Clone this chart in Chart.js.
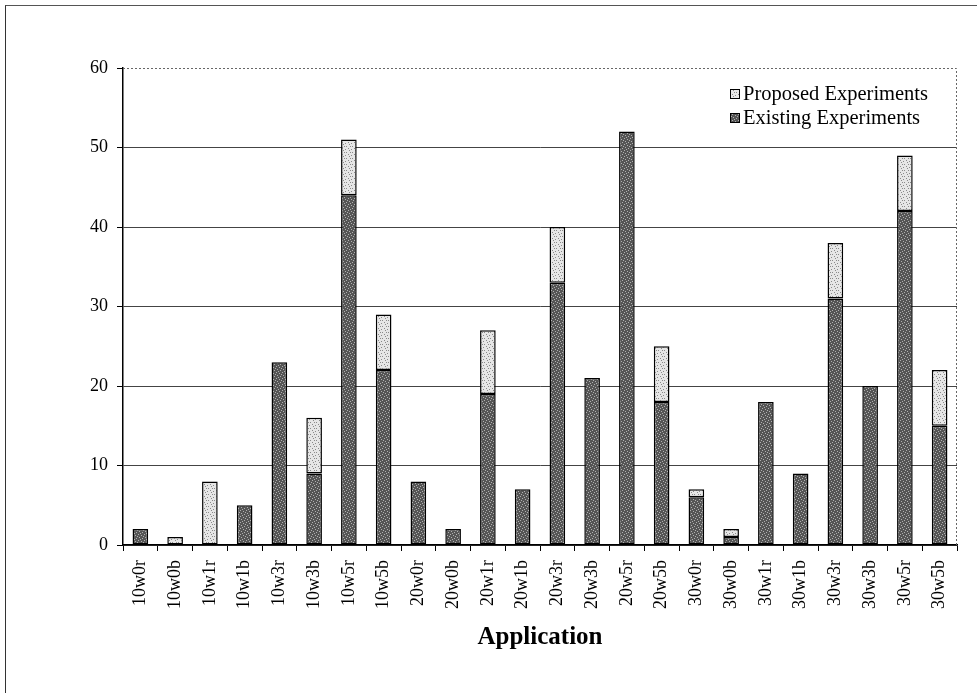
<!DOCTYPE html>
<html>
<head>
<meta charset="utf-8">
<script src="https://cdn.jsdelivr.net/npm/chart.js@4"></script>
<style>
  html, body { margin: 0; padding: 0; background: #fff; }
  #wrap {
    position: absolute; left: 0; top: 0; width: 977px; height: 693px;
  }
  #frame {
    position: absolute; left: 5px; top: 5px; width: 975px; height: 690px;
    border-left: 1px solid #333; border-top: 1px solid #555;
    pointer-events: none;
  }
</style>
</head>
<body>
<div id="wrap">
  <canvas id="chart" width="977" height="693"></canvas>
  <div id="frame"></div>
</div>
<script>
// 各應用程式名稱
const categories = ['10w0r', '10w0b', '10w1r', '10w1b', '10w3r', '10w3b', '10w5r', '10w5b',
                    '20w0r', '20w0b', '20w1r', '20w1b', '20w3r', '20w3b', '20w5r', '20w5b',
                    '30w0r', '30w0b', '30w1r', '30w1b', '30w3r', '30w3b', '30w5r', '30w5b'];
// 既有實驗數量
const existing = [2, 0, 0, 5, 23, 9, 44, 22, 8, 2, 19, 7, 33, 21, 52, 18, 6, 1, 18, 9, 31, 20, 42, 15];
// 提議的實驗數量（疊在上面）
const proposed = [0, 1, 8, 0, 0, 7, 7, 7, 0, 0, 8, 0, 7, 0, 0, 7, 1, 1, 0, 0, 7, 0, 7, 7];
const yTicks = [0, 10, 20, 30, 40, 50, 60];

// 點狀填色（模仿掃描圖的網點）
function makePattern(base, speck, spots) {
    const c = document.createElement('canvas');
    c.width = 6; c.height = 6;
    const g = c.getContext('2d');
    g.fillStyle = base;
    g.fillRect(0, 0, 6, 6);
    g.fillStyle = speck;
    spots.forEach(p => g.fillRect(p[0], p[1], 1, 1));
    return g.createPattern(c, 'repeat');
}
const ctx = document.getElementById('chart').getContext('2d');
const darkFill = makePattern('#555555', '#b0b0b0', [[0,0],[3,1],[1,3],[4,4],[2,5],[5,2]]);
const lightFill = makePattern('#e6e6e6', '#8a8a8a', [[1,0],[4,2],[0,4],[3,5],[2,2]]);

const serif = '"Liberation Serif", "DejaVu Serif", serif';

// 圖例畫在圖表區右上角
const legendPlugin = {
    id: 'boxLegend',
    afterDraw(chart) {
        const c = chart.ctx;
        const items = [
            { text: chart.data.datasets[1].label, fill: lightFill },
            { text: chart.data.datasets[0].label, fill: darkFill }
        ];
        c.save();
        c.font = '20.5px ' + serif;
        c.textBaseline = 'middle';
        items.forEach((it, i) => {
            const y = 94 + i * 24;
            c.fillStyle = it.fill;
            c.fillRect(730, y - 5, 10, 10);
            c.strokeStyle = '#000';
            c.lineWidth = 1;
            c.strokeRect(730.5, y - 4.5, 9, 9);
            c.fillStyle = '#000';
            c.fillText(it.text, 743, y + 1);
        });
        c.restore();
    }
};

// 圖表區上緣與右緣的虛線邊框
const borderPlugin = {
    id: 'dottedBorder',
    beforeDatasetsDraw(chart) {
        const a = chart.chartArea;
        const c = chart.ctx;
        c.save();
        c.strokeStyle = '#666';
        c.lineWidth = 1;
        c.setLineDash([2, 2]);
        c.beginPath();
        c.moveTo(a.left, a.top + 0.5);
        c.lineTo(a.right - 0.5, a.top + 0.5);
        c.lineTo(a.right - 0.5, a.bottom);
        c.stroke();
        c.restore();
    }
};

new Chart(ctx, {
    type: 'bar',
    data: {
        labels: categories,
        datasets: [{
            label: 'Existing Experiments',
            data: existing,
            backgroundColor: darkFill,
            borderColor: '#000',
            borderWidth: c => (c.raw ? 1.5 : 0),
            borderSkipped: false,
            barPercentage: 0.45,
            categoryPercentage: 1.0
        }, {
            label: 'Proposed Experiments',
            data: proposed,
            backgroundColor: lightFill,
            borderColor: '#000',
            borderWidth: c => (c.raw ? 1.5 : 0),
            borderSkipped: false,
            barPercentage: 0.45,
            categoryPercentage: 1.0
        }]
    },
    options: {
        responsive: false,
        animation: false,
        layout: { padding: { top: 68, right: 20, bottom: 40, left: 0 } },
        plugins: {
            legend: { display: false },
            tooltip: { enabled: false }
        },
        scales: {
            x: {
                stacked: true,
                grid: {
                    display: true,
                    drawOnChartArea: false,
                    drawTicks: true,
                    tickLength: 6,
                    color: '#000'
                },
                border: { display: true, color: '#000', width: 1.5 },
                ticks: {
                    color: '#000',
                    font: { family: serif, size: 18 },
                    maxRotation: 90,
                    minRotation: 90,
                    padding: 9,
                    autoSkip: false
                },
                title: {
                    display: true,
                    text: 'Application',
                    color: '#000',
                    font: { family: serif, size: 25, weight: 'bold' },
                    padding: 0
                },
                afterFit(scale) { scale.height = 108; }
            },
            y: {
                stacked: true,
                min: 0,
                max: 60,
                afterBuildTicks(scale) { scale.ticks = yTicks.map(v => ({ value: v })); },
                grid: {
                    color: c => (c.tick && c.tick.value === 60 ? 'rgba(0,0,0,0)' : '#444'),
                    lineWidth: 1,
                    tickLength: 6,
                    tickColor: '#000'
                },
                border: { display: true, color: '#000', width: 1.5 },
                ticks: {
                    color: '#000',
                    font: { family: serif, size: 18 },
                    padding: 9
                },
                afterFit(scale) { scale.width = 123; }
            }
        }
    },
    plugins: [borderPlugin, legendPlugin]
});
</script>
</body>
</html>
